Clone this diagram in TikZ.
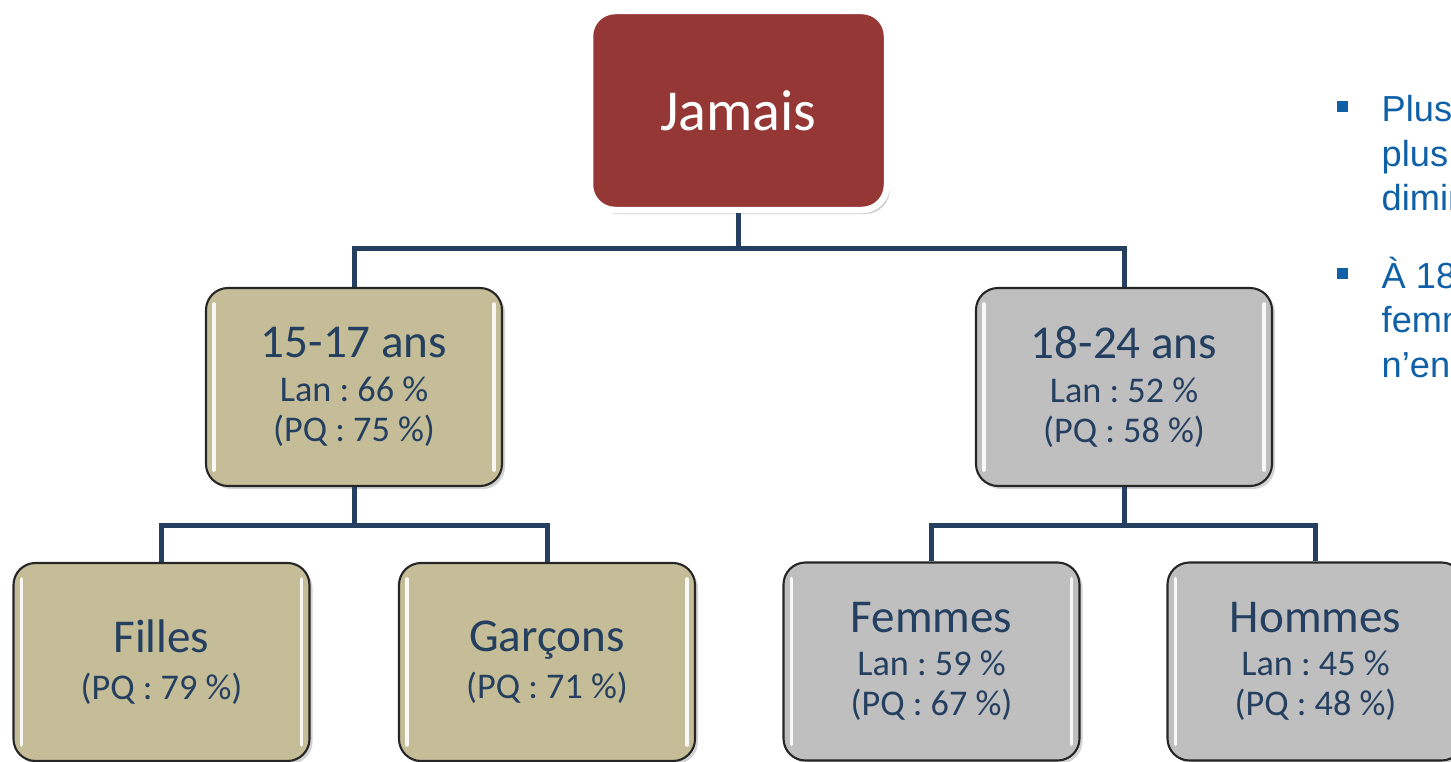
\documentclass[tikz,border=0pt]{standalone}
\usepackage{fontspec}
\setmainfont{Carlito}
\newfontfamily\arialfont{Liberation Sans}
\usetikzlibrary{shadows}
\frenchspacing
\definecolor{jamaisred}{HTML}{953735}
\definecolor{agetan}{HTML}{C4BD97}
\definecolor{agegray}{HTML}{BFBFBF}
\definecolor{linkblue}{HTML}{243F60}
\definecolor{textnavy}{HTML}{243F60}
\definecolor{notesblue}{HTML}{1060A8}
\tikzset{
  box/.style={rectangle,rounded corners=0.22cm,draw=black!85,line width=0.6pt,
    minimum width=2.96cm,minimum height=1.98cm,inner sep=0pt,align=center,
    text=textnavy,font=\fontsize{10.3}{11.4}\selectfont,
    drop shadow={opacity=0.35,shadow xshift=0.03cm,shadow yshift=-0.03cm}},
  tanbox/.style={box,fill=agetan},
  graybox/.style={box,fill=agegray},
  topbox/.style={rectangle,rounded corners=0.25cm,draw=white,line width=0.065cm,
    fill=jamaisred,minimum width=2.97cm,minimum height=1.99cm,text=white,
    font=\fontsize{16.5}{18}\selectfont,
    drop shadow={opacity=0.4,shadow xshift=0.03cm,shadow yshift=-0.04cm}},
  link/.style={draw=linkblue,line width=0.05cm},
  shine/.style={draw=white,line width=0.035cm,line cap=round,opacity=0.9},
  bullet/.style={rectangle,fill=notesblue,minimum size=0.11cm,inner sep=0pt},
  notes/.style={text=notesblue,font=\arialfont\fontsize{10.3}{12.66}\selectfont,
    align=left,anchor=north west,inner sep=0pt}
}
\newcommand{\head}[1]{{\fontsize{13.4}{13.4}\selectfont #1}}
\begin{document}
\begin{tikzpicture}
\useasboundingbox (0,0) rectangle (14.51,-7.62);
%root
\node[topbox] (jam) at (7.385,-1.105) {Jamais};
%age groups
\node[tanbox] (age1) at (3.54,-3.87) {\head{15-17 ans}\\[1pt]Lan : 66~\%\\(PQ : 75~\%)};
\node[graybox] (age2) at (11.24,-3.87) {\head{18-24 ans}\\[1pt]Lan : 52~\%\\(PQ : 58~\%)};
%sexes
\node[tanbox] (fil) at (1.615,-6.62) {\head{Filles}\\[2pt](PQ : 79~\%)};
\node[tanbox] (gar) at (5.47,-6.62) {\head{Garçons}\\[2pt](PQ : 71~\%)};
\node[graybox] (fem) at (9.315,-6.615) {\head{Femmes}\\[1pt]Lan : 59~\%\\(PQ : 67~\%)};
\node[graybox] (hom) at (13.155,-6.615) {\head{Hommes}\\[1pt]Lan : 45~\%\\(PQ : 48~\%)};
%gloss on the sides
\foreach \n in {age1,age2,fil,gar,fem,hom}{
  \draw[shine] ([shift={(0.09,-0.17)}]\n.north west) -- ([shift={(0.09,0.17)}]\n.south west);
  \draw[shine] ([shift={(-0.09,-0.17)}]\n.north east) -- ([shift={(-0.09,0.17)}]\n.south east);
}
%connectors
\draw[link] (jam.south) -- ++(0,-0.35) -| (age1.north);
\draw[link] (jam.south) -- ++(0,-0.35) -| (age2.north);
\draw[link] (age1.south) -- ++(0,-0.38) -| (fil.north);
\draw[link] (age1.south) -- ++(0,-0.38) -| (gar.north);
\draw[link] (age2.south) -- ++(0,-0.38) -| (fem.north);
\draw[link] (age2.south) -- ++(0,-0.38) -| (hom.north);
%notes on the right
\node[bullet] (b1) at (13.425,-1.065) {};
\node[notes] (n1) at (13.81,-0.95) {Plus\\plus\\dimin};
\node[bullet] (b2) at (13.425,-2.735) {};
\node[notes] (n2) at (13.81,-2.56) {À 18\\femme\\n’en};
\end{tikzpicture}
\end{document}
